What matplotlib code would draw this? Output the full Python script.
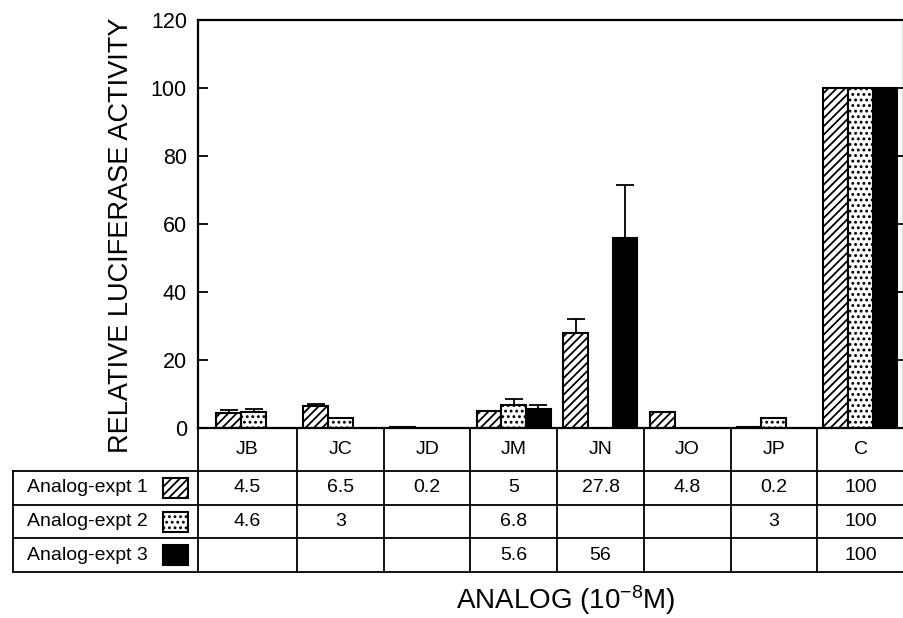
import numpy as np
import matplotlib
matplotlib.use('Agg')
import matplotlib.pyplot as plt
from matplotlib.patches import Rectangle
from matplotlib.lines import Line2D

plt.rcParams['font.family'] = ['Liberation Sans', 'DejaVu Sans']
plt.rcParams['mathtext.fontset'] = 'custom'
plt.rcParams['mathtext.rm'] = 'Liberation Sans'
plt.rcParams['mathtext.default'] = 'regular'
plt.rcParams['hatch.linewidth'] = 1.3

# data
analogs = ['JB', 'JC', 'JD', 'JM', 'JN', 'JO', 'JP', 'C']
expt1 = [4.5, 6.5, 0.2, 5, 27.8, 4.8, 0.2, 100]
expt2 = [4.6, 3, None, 6.8, None, None, 3, 100]
expt3 = [None, None, None, 5.6, 56, None, None, 100]
err1 = [0.9, 0.7, 0, 0, 4.2, 0, 0, 0]
err2 = [0.9, 0, 0, 1.8, 0, 0, 0, 0]
err3 = [0, 0, 0, 1.2, 15.4, 0, 0, 0]
row_names = ['Analog-expt 1', 'Analog-expt 2', 'Analog-expt 3']
yticks = [0, 20, 40, 60, 80, 100, 120]

series = [expt1, expt2, expt3]
errs = [err1, err2, err3]
styles = [dict(facecolor='white', hatch='////'),
          dict(facecolor='white', hatch='...'),
          dict(facecolor='black', hatch=None)]

W, H = 904, 618
fig = plt.figure(figsize=(W / 100, H / 100), dpi=100)
ax = fig.add_axes([198 / W, 1 - 428 / H, 706 / W, 408 / H])

x0 = -0.143
ax.set_xlim(x0, len(analogs))
ax.set_ylim(0, 120)

bw = 0.285
off = 0.07
for k, (vals, ee, st) in enumerate(zip(series, errs, styles)):
    for i, v in enumerate(vals):
        if v is None:
            continue
        xl = i + off + k * bw
        ax.bar(xl, v, width=bw, align='edge', edgecolor='black',
               linewidth=1.5, zorder=2, **st)
        if ee[i] > 0:
            ax.errorbar(xl + bw / 2, v, yerr=[[0], [ee[i]]], fmt='none',
                        ecolor='black', elinewidth=1.3, capsize=6.5,
                        capthick=1.3, zorder=3)

ax.set_yticks(yticks)
ax.set_xticks([])
ax.tick_params(axis='y', direction='in', length=7, width=1.3, labelsize=15.5,
               pad=8, right=True)
for s in ax.spines.values():
    s.set_linewidth(1.6)

# table below the axes, in axes fractions
tr = ax.transAxes
span = len(analogs) - x0
edges = [0.0] + [(i - x0) / span for i in range(1, len(analogs) + 1)]
lab_left = (13 - 198) / 706
rows = [(428 - y) / 408 for y in (428, 471, 505, 538, 572)]
lw = 1.3

for yy in rows[1:]:
    ax.add_line(Line2D([lab_left, 1], [yy, yy], transform=tr, color='black',
                       lw=lw, clip_on=False))
ax.add_line(Line2D([lab_left, lab_left], [rows[1], rows[-1]], transform=tr,
                   color='black', lw=lw, clip_on=False))
for ex in edges:
    ax.add_line(Line2D([ex, ex], [rows[0], rows[-1]], transform=tr,
                       color='black', lw=lw, clip_on=False))

for i, name in enumerate(analogs):
    cx = (edges[i] + edges[i + 1]) / 2
    ax.text(cx, (rows[0] + rows[1]) / 2, name, transform=tr, ha='center',
            va='center', fontsize=14)
    for r, vals in enumerate(series):
        if vals[i] is None:
            continue
        ax.text(cx, (rows[r + 1] + rows[r + 2]) / 2, '{:g}'.format(vals[i]),
                transform=tr, ha='center', va='center', fontsize=14)

sw_l = (163 - 198) / 706
sw_w = 25 / 706
sw_h = 20 / 408
for r, name in enumerate(row_names):
    cy = (rows[r + 1] + rows[r + 2]) / 2
    ax.text((27 - 198) / 706, cy, name, transform=tr, ha='left', va='center',
            fontsize=14)
    ax.add_patch(Rectangle((sw_l, cy - sw_h / 2), sw_w, sw_h, transform=tr,
                           edgecolor='black', linewidth=1.5, clip_on=False,
                           **styles[r]))

fig.text(121 / W, 1 - 235 / H, 'RELATIVE LUCIFERASE ACTIVITY', rotation=90,
         ha='center', va='center', fontsize=19.5)
fig.text(566 / W, 1 - 600 / H, 'ANALOG (10$^{-8}$M)', ha='center',
         va='center', fontsize=20)

fig.savefig('out.png', dpi=100)
